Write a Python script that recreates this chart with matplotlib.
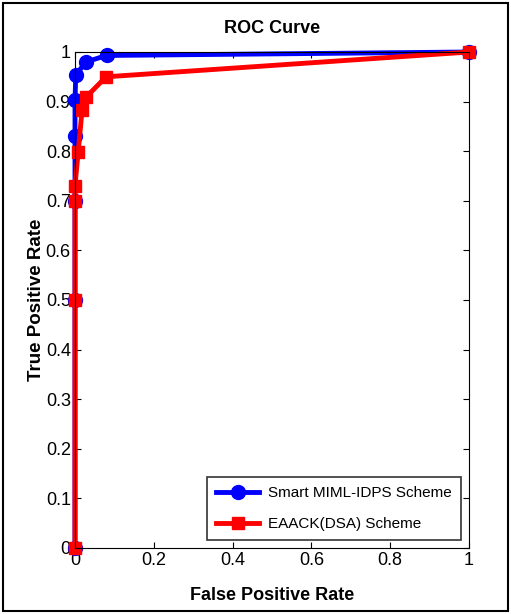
import matplotlib.pyplot as plt
from matplotlib.patches import Rectangle

fpr_miml = [0, 0, 0, 0, 0, 0.002, 0.028, 0.08, 1]
tpr_miml = [0, 0.5, 0.7, 0.83, 0.903, 0.954, 0.98, 0.993, 1]

fpr_eaack = [0, 0, 0, 0, 0.008, 0.018, 0.028, 0.079, 1]
tpr_eaack = [0, 0.5, 0.7, 0.73, 0.798, 0.883, 0.909, 0.95, 1]

plt.rcParams['font.family'] = ['Liberation Sans', 'DejaVu Sans']

fig = plt.figure(figsize=(5.11, 6.14), dpi=100)
ax = fig.add_axes([75 / 511, 1 - 548 / 614, 394 / 511, 496 / 614])

ax.plot(fpr_miml, tpr_miml, '-o', color='blue', lw=3.5, ms=10, label='Smart MIML-IDPS Scheme', clip_on=False)
ax.plot(fpr_eaack, tpr_eaack, '-s', color='red', lw=3.5, ms=9, label='EAACK(DSA) Scheme', clip_on=False)

ax.set_xlim(0, 1)
ax.set_ylim(0, 1)
ax.set_xticks([0, 0.2, 0.4, 0.6, 0.8, 1])
ax.set_xticklabels(['0', '0.2', '0.4', '0.6', '0.8', '1'])
ax.set_yticks([i / 10 for i in range(11)])
ax.set_yticklabels(['0', '0.1', '0.2', '0.3', '0.4', '0.5', '0.6', '0.7', '0.8', '0.9', '1'])
ax.tick_params(direction='in', top=True, right=True, labelsize=13, length=4, pad=3)

ax.set_title('ROC Curve', fontsize=13, fontweight='bold', pad=14)
ax.set_xlabel('False Positive Rate', fontsize=13, fontweight='bold', labelpad=13)
ax.set_ylabel('True Positive Rate', fontsize=13.5, fontweight='bold', labelpad=0.5)

leg = ax.legend(loc='lower right', fontsize=11, frameon=True, fancybox=False,
                edgecolor='black', handlelength=2.8, labelspacing=1.1, borderpad=0.6,
                handletextpad=0.6, borderaxespad=0.5)
leg.get_frame().set_linewidth(1.2)

fig.patches.append(Rectangle((3 / 511, 3 / 614), 505 / 511, 608 / 614, transform=fig.transFigure,
                             fill=False, edgecolor='black', lw=1.5))

fig.savefig('out.png', dpi=100)
